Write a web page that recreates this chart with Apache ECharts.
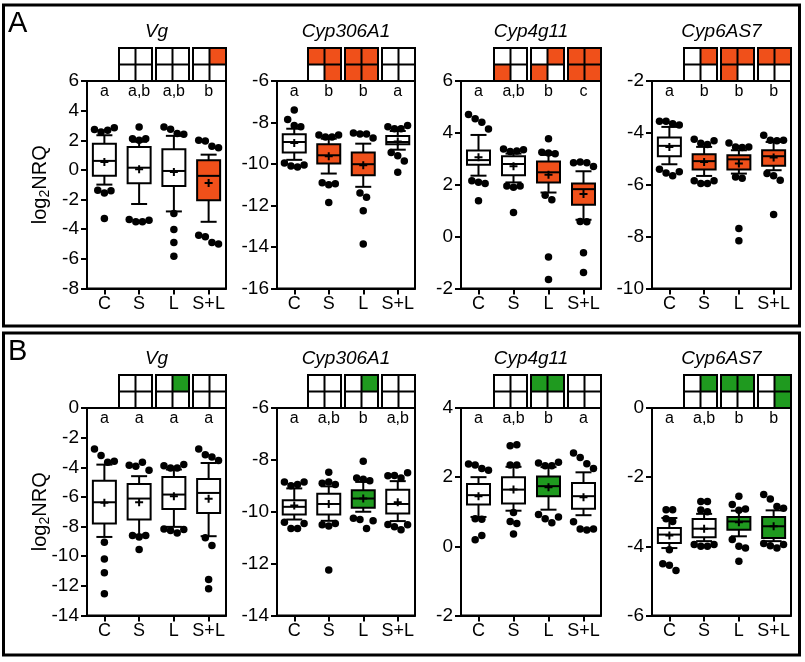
<!DOCTYPE html>
<html><head><meta charset="utf-8">
<script src="https://cdn.jsdelivr.net/npm/echarts@6/dist/echarts.min.js"></script>
<style>html,body{margin:0;padding:0;background:#fff}#c{width:805px;height:662px}</style>
</head><body><div id="c"></div>
<script>
// ---------------- DATA ----------------
const categories = ['C', 'S', 'L', 'S+L'];
const genes = ['Vg', 'Cyp306A1', 'Cyp4g11', 'Cyp6AS7'];
const panelLabels = ['A', 'B'];
const yMinA = [-8, -16, -2, -10];
const yMaxA = [6, -6, 6, -2];
const yMinB = [-14, -14, -2, -6];
const yMaxB = [0, -6, 4, 0];
const yInterval = 2;

// box stats per gene: [low whisker, Q1, median, Q3, high whisker] for C, S, L, S+L
const boxesA = [
  [[-0.99, -0.40, 0.61, 1.77, 2.34], [-2.3, -0.9, 0.15, 1.55, 1.9], [-2.8, -1.08, -0.07, 1.39, 2.3], [-3.5, -2.04, -0.4, 0.65, 1.03]],
  [[-9.8, -9.45, -8.94, -8.57, -8.3], [-10.46, -9.98, -9.58, -9.05, -8.78], [-11.1, -10.54, -10.01, -9.45, -9.02], [-9.31, -9.05, -8.94, -8.65, -8.41]],
  [[2.35, 2.77, 2.95, 3.32, 3.92], [2.09, 2.37, 2.8, 3.1, 3.2], [1.7, 2.09, 2.48, 2.9, 3.15], [0.65, 1.23, 1.83, 2.05, 2.52]],
  [[-5.21, -4.9, -4.5, -4.18, -3.77], [-5.66, -5.41, -5.09, -4.82, -4.54], [-5.57, -5.41, -5.02, -4.86, -4.67], [-5.44, -5.27, -4.9, -4.67, -4.35]]
];
const meansA = [
  [0.54, 0.05, -0.14, -0.88],
  [-8.99, -9.63, -10.06, -8.91],
  [3.06, 2.71, 2.39, 1.64],
  [-4.54, -5.12, -5.18, -4.95]
];
const outliersA = [
  [[2.72, 2.56, 2.67, 2.85, -1.37, -1.55, -1.4, -3.28], [2.9, 2.1, 2.0, 2.1, -3.35, -3.5, -3.5, -3.4], [2.9, 2.75, 2.45, 2.4, -2.94, -4.02, -4.9, -5.82], [2.0, 1.95, 1.6, 1.5, -4.4, -4.5, -4.9, -5.0]],
  [[-7.4, -7.85, -8.15, -8.2, -9.95, -10.1, -10.15, -10.05], [-8.6, -8.7, -8.7, -8.6, -10.9, -11.0, -10.95, -11.85], [-8.5, -8.55, -8.55, -8.75, -11.4, -11.6, -12.25, -13.85], [-8.2, -8.3, -8.3, -8.15, -9.45, -9.6, -9.85, -10.4]],
  [[4.71, 4.54, 4.41, 4.15, 2.15, 2.1, 2.05, 1.38], [3.38, 3.28, 3.3, 3.35, 1.95, 1.9, 1.95, 0.93], [3.77, 3.25, 3.22, 3.2, 1.6, 1.42, -0.79, -1.65], [2.85, 2.88, 2.85, 2.7, 0.58, 0.57, -0.62, -1.38]],
  [[-3.55, -3.55, -3.65, -3.7, -5.4, -5.55, -5.65, -5.5], [-4.25, -4.4, -4.45, -4.3, -5.85, -5.95, -5.95, -5.85], [-4.39, -4.54, -4.56, -4.54, -5.7, -5.75, -7.69, -8.16], [-4.09, -4.28, -4.3, -4.28, -5.57, -5.65, -5.83, -7.15]]
];
const lettersA = [['a', 'a,b', 'a,b', 'b'], ['a', 'b', 'b', 'a'], ['a', 'a,b', 'b', 'c'], ['a', 'b', 'b', 'b']];
const highlightA = [[0, 0, 0, 1], [0, 1, 1, 0], [0, 0, 1, 1], [0, 1, 1, 1]];
// icon cells [top-left, top-right, bottom-left, bottom-right] for S, L, S+L
const iconsA = [
  [[0, 0, 0, 0], [0, 0, 0, 0], [0, 1, 0, 0]],
  [[1, 1, 0, 1], [1, 1, 1, 1], [0, 0, 0, 0]],
  [[0, 0, 1, 0], [0, 1, 1, 0], [1, 1, 1, 1]],
  [[0, 1, 0, 0], [1, 1, 1, 0], [1, 1, 0, 0]]
];

const boxesB = [
  [[-8.7, -7.8, -6.36, -4.9, -3.82], [-8.55, -7.53, -6.11, -5.12, -4.6], [-8.02, -6.81, -5.84, -4.65, -4.15], [-8.65, -7.08, -5.73, -4.79, -3.71]],
  [[-10.3, -10.11, -9.81, -9.56, -9.1], [-10.35, -10.11, -9.7, -9.31, -9.02], [-10.0, -9.85, -9.49, -9.17, -8.85], [-10.36, -10.07, -9.7, -9.15, -8.82]],
  [[0.85, 1.21, 1.48, 1.8, 2.0], [1.03, 1.24, 1.64, 2.0, 2.3], [1.06, 1.45, 1.74, 2.02, 2.29], [0.9, 1.09, 1.45, 1.83, 2.14]],
  [[-4.05, -3.9, -3.66, -3.47, -3.18], [-3.85, -3.74, -3.49, -3.21, -3.06], [-3.71, -3.52, -3.28, -3.15, -2.97], [-3.85, -3.76, -3.42, -3.15, -2.96]]
];
const meansB = [
  [-6.4, -6.36, -5.96, -6.13],
  [-9.76, -9.7, -9.49, -9.63],
  [1.45, 1.64, 1.71, 1.42],
  [-3.69, -3.49, -3.3, -3.42]
];
const outliersB = [
  [[-2.76, -3.21, -3.66, -3.6, -9.06, -10.18, -11.12, -12.54], [-3.87, -3.93, -3.66, -4.2, -8.6, -8.7, -8.6, -9.55], [-3.9, -4.05, -4.05, -3.82, -8.16, -8.27, -8.43, -8.2], [-2.76, -3.15, -3.3, -3.55, -8.76, -9.28, -11.57, -12.2]],
  [[-8.85, -9.0, -8.95, -8.85, -10.4, -10.65, -10.65, -10.45], [-8.48, -8.9, -8.85, -8.95, -10.5, -10.55, -10.45, -12.25], [-8.05, -8.7, -8.75, -8.8, -10.25, -10.3, -10.65, -10.35], [-8.61, -8.6, -8.7, -8.5, -10.49, -10.58, -10.69, -10.5]],
  [[2.38, 2.35, 2.25, 2.2, 0.8, 0.78, 0.19, 0.31], [2.91, 2.94, 2.35, 2.35, 0.98, 0.72, 0.66, 0.36], [2.41, 2.33, 2.33, 2.43, 0.92, 0.8, 0.68, 0.85], [2.7, 2.57, 2.39, 2.25, 0.71, 0.5, 0.47, 0.5]],
  [[-2.94, -2.94, -3.2, -3.28, -4.1, -4.5, -4.55, -4.7], [-2.7, -2.7, -2.95, -3.0, -3.95, -4.0, -4.0, -3.95], [-2.55, -2.79, -2.96, -2.92, -3.8, -4.0, -4.05, -4.43], [-2.5, -2.63, -2.85, -2.9, -3.92, -3.98, -4.05, -3.95]]
];
const lettersB = [['a', 'a', 'a', 'a'], ['a', 'a,b', 'b', 'a,b'], ['a', 'a,b', 'b', 'a'], ['a', 'a,b', 'b', 'b']];
const highlightB = [[0, 0, 0, 0], [0, 0, 1, 0], [0, 0, 1, 0], [0, 0, 1, 1]];
const iconsB = [
  [[0, 0, 0, 0], [0, 1, 0, 0], [0, 0, 0, 0]],
  [[0, 0, 0, 0], [0, 1, 0, 0], [0, 0, 0, 0]],
  [[0, 0, 0, 0], [1, 1, 0, 0], [0, 0, 0, 0]],
  [[0, 1, 0, 0], [1, 1, 0, 0], [0, 1, 0, 1]]
];

// ---------------- LAYOUT / STYLE ----------------
const FONT = '"Liberation Sans", Arial, Helvetica, sans-serif';
const rowColors = ['#F0501A', '#1F9A1F'];
const gridLefts = [87, 277, 461, 652];
const gridWidths = [139, 138, 140, 139];
const gridTops = [81, 408];
const gridHeight = 207.5;
const frames = [[3.5, 5, 796, 321], [3.5, 333, 796, 322]];

const rows = [
  {yMin: yMinA, yMax: yMaxA, boxes: boxesA, means: meansA, outliers: outliersA, letters: lettersA, highlight: highlightA, icons: iconsA},
  {yMin: yMinB, yMax: yMaxB, boxes: boxesB, means: meansB, outliers: outliersB, letters: lettersB, highlight: highlightB, icons: iconsB}
];

const grids = [], xAxes = [], yAxes = [], series = [], graphics = [];

function jitter(vals, median, range) {
  // spread points that sit at similar heights
  const thr = 8 * range / gridHeight;
  const out = [];
  [vals.filter(v => v > median), vals.filter(v => v <= median)].forEach(set => {
    const order = set.map((v, i) => i).sort((a, b) => set[b] - set[a]);
    const clusters = [];
    let cur = [];
    order.forEach((idx, k) => {
      if (k > 0 && Math.abs(set[order[k - 1]] - set[idx]) >= thr) { clusters.push(cur); cur = []; }
      cur.push(idx);
    });
    if (cur.length) clusters.push(cur);
    clusters.forEach(cl => {
      cl.sort((a, b) => a - b);
      const n = cl.length;
      cl.forEach((idx, j) => out.push({v: set[idx], dx: (j - (n - 1) / 2) * 0.19}));
    });
  });
  return out;
}

const plusPath = 'path://M3,0H5V3H8V5H5V8H3V5H0V3H3Z';

rows.forEach((row, r) => {
  for (let c = 0; c < 4; c++) {
    const g = r * 4 + c;
    const left = gridLefts[c], width = gridWidths[c], top = gridTops[r];
    grids.push({left: left, top: top, width: width, height: gridHeight, show: true, borderColor: '#000', borderWidth: 2, containLabel: false});
    xAxes.push({
      type: 'category', gridIndex: g, data: categories, boundaryGap: true,
      axisLine: {onZero: false, lineStyle: {color: '#000', width: 2}},
      axisTick: {show: true, alignWithLabel: true, interval: 0, length: 6, lineStyle: {color: '#000', width: 2}},
      axisLabel: {interval: 0, color: '#000', fontSize: 18, fontFamily: FONT, margin: 7},
      splitLine: {show: false}
    });
    xAxes.push({type: 'value', gridIndex: g, min: -0.5, max: 3.5, show: false, axisLine: {onZero: false}});
    yAxes.push({
      type: 'value', gridIndex: g, min: row.yMin[c], max: row.yMax[c], interval: yInterval,
      axisLine: {show: true, onZero: false, lineStyle: {color: '#000', width: 2}},
      axisTick: {show: true, length: 6, lineStyle: {color: '#000', width: 2}},
      axisLabel: {color: '#000', fontSize: 19, fontFamily: FONT, margin: 8},
      splitLine: {show: false}
    });
    const range = row.yMax[c] - row.yMin[c];
    const hl = row.highlight[c];
    const color = rowColors[r];
    // boxes
    series.push({
      type: 'custom', xAxisIndex: 2 * g + 1, yAxisIndex: g, z: 2,
      data: row.boxes[c].map((b, i) => [i].concat(b)),
      renderItem: function (params, api) {
        const x = api.value(0);
        const lo = api.coord([x, api.value(1)]);
        const q1 = api.coord([x, api.value(2)]);
        const md = api.coord([x, api.value(3)]);
        const q3 = api.coord([x, api.value(4)]);
        const hi = api.coord([x, api.value(5)]);
        const cx = lo[0], bw = 23, cw = 16;
        const ls = {stroke: '#000', lineWidth: 2};
        const fill = hl[params.dataIndex] ? color : '#fff';
        return {type: 'group', children: [
          {type: 'line', shape: {x1: cx, y1: hi[1], x2: cx, y2: q3[1]}, style: ls},
          {type: 'line', shape: {x1: cx, y1: q1[1], x2: cx, y2: lo[1]}, style: ls},
          {type: 'line', shape: {x1: cx - cw / 2, y1: hi[1], x2: cx + cw / 2, y2: hi[1]}, style: ls},
          {type: 'line', shape: {x1: cx - cw / 2, y1: lo[1], x2: cx + cw / 2, y2: lo[1]}, style: ls},
          {type: 'rect', shape: {x: cx - bw / 2, y: q3[1], width: bw, height: q1[1] - q3[1]}, style: {fill: fill, stroke: '#000', lineWidth: 2}},
          {type: 'line', shape: {x1: cx - bw / 2, y1: md[1], x2: cx + bw / 2, y2: md[1]}, style: ls}
        ]};
      }
    });
    // means
    series.push({
      type: 'scatter', xAxisIndex: 2 * g + 1, yAxisIndex: g, z: 4,
      symbol: plusPath, symbolSize: 8, itemStyle: {color: '#000', opacity: 1}, silent: true,
      data: row.means[c].map((m, i) => [i, m])
    });
    // outliers
    const pts = [];
    row.outliers[c].forEach((set, i) => {
      jitter(set, row.boxes[c][i][2], range).forEach(p => pts.push([i + p.dx, p.v]));
    });
    series.push({
      type: 'scatter', xAxisIndex: 2 * g + 1, yAxisIndex: g, z: 5,
      symbol: 'circle', symbolSize: 7.5, itemStyle: {color: '#000', opacity: 1}, silent: true,
      data: pts
    });
    // letters
    const lt = row.letters[c];
    series.push({
      type: 'scatter', xAxisIndex: 2 * g + 1, yAxisIndex: g, z: 6,
      symbol: 'circle', symbolSize: 0, itemStyle: {color: '#000', opacity: 1}, silent: true,
      data: lt.map((t, i) => [i, row.yMax[c]]),
      label: {show: true, position: 'inside', offset: [0, 11], color: '#000', opacity: 1, fontSize: 16, fontFamily: FONT,
        formatter: p => lt[p.dataIndex]}
    });
    // title
    graphics.push({type: 'text', position: [left + width / 2, top - 49], z: 10,
      style: {text: genes[c], x: 0, y: 0, fill: '#000', font: 'italic 19px ' + FONT, align: 'center', verticalAlign: 'middle'}});
    // icons
    const right = left + width;
    row.icons[c].forEach((cells, k) => {
      const x0 = right - 33 - (2 - k) * 37, y0 = top - 33, s = 33, h = s / 2;
      const children = [];
      cells.forEach((f, ci) => {
        if (f) children.push({type: 'rect', shape: {x: x0 + (ci % 2) * h, y: y0 + Math.floor(ci / 2) * h, width: h, height: h}, style: {fill: color}});
      });
      children.push({type: 'rect', shape: {x: x0, y: y0, width: s, height: s}, style: {fill: null, stroke: '#000', lineWidth: 2}});
      children.push({type: 'line', shape: {x1: x0 + h, y1: y0, x2: x0 + h, y2: y0 + s}, style: {stroke: '#000', lineWidth: 2}});
      children.push({type: 'line', shape: {x1: x0, y1: y0 + h, x2: x0 + s, y2: y0 + h}, style: {stroke: '#000', lineWidth: 2}});
      graphics.push({type: 'group', children: children, z: 10});
    });
  }
  // frame, panel label, y axis name
  const f = frames[r];
  graphics.push({type: 'rect', shape: {x: f[0], y: f[1], width: f[2], height: f[3]}, style: {fill: null, stroke: '#000', lineWidth: 3}, z: 10});
  graphics.push({type: 'text', style: {text: panelLabels[r], x: 8, y: f[1] + 4, fill: '#000', font: '29px ' + FONT}, z: 10});
  graphics.push({type: 'text', rotation: Math.PI / 2, position: [40, gridTops[r] + gridHeight / 2], z: 10,
    style: {text: '{a|log}{b|2}{a|NRQ}', x: 0, y: 0, align: 'center', verticalAlign: 'middle', fill: '#000',
      rich: {a: {fontSize: 20, fontFamily: FONT, lineHeight: 24, verticalAlign: 'middle'},
             b: {fontSize: 14, fontFamily: FONT, lineHeight: 12, verticalAlign: 'bottom'}}}});
});

const chart = echarts.init(document.getElementById('c'), null, {renderer: 'canvas'});
chart.setOption({
  animation: false,
  backgroundColor: '#fff',
  grid: grids, xAxis: xAxes, yAxis: yAxes, series: series,
  graphic: {elements: graphics}
});
</script></body></html>
